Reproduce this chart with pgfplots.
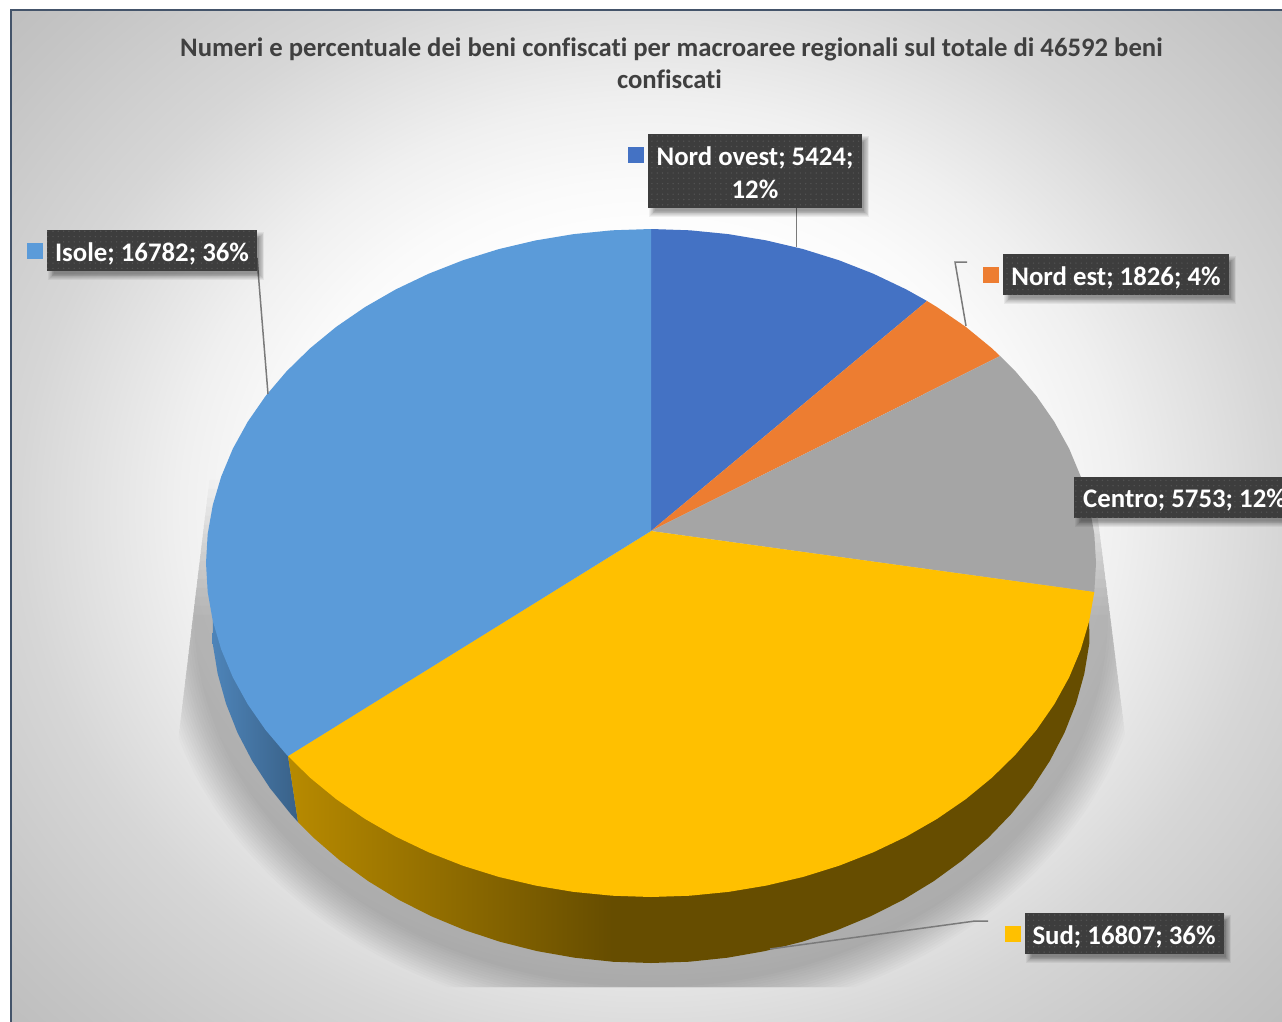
\documentclass[border=0pt]{standalone}
\usepackage{fontspec}
\setmainfont{Carlito}[Ligatures=NoCommon]
\usepackage{pgfplots}
\pgfplotsset{compat=1.18}
\usetikzlibrary{patterns}

\definecolor{cNordOvest}{HTML}{4472C4}
\definecolor{cNordEst}{HTML}{ED7D31}
\definecolor{cCentro}{HTML}{A5A5A5}
\definecolor{cSud}{HTML}{FFC000}
\definecolor{cIsole}{HTML}{5B9BD9}
\definecolor{cBox}{HTML}{3D3D3D}
\definecolor{cTitle}{HTML}{404040}
\definecolor{cFrame}{HTML}{44546A}

% Soft grey background, lightest around the middle of the chart area
\pgfdeclareradialshading{chartbg}{\pgfpoint{0bp}{0bp}}{%
  color(0bp)=(white);
  color(7.5bp)=(white);
  color(9.5bp)=(white!98!black);
  color(11.75bp)=(white!94!black);
  color(13.75bp)=(white!89!black);
  color(15.75bp)=(white!84!black);
  color(20bp)=(white!77!black);
  color(25bp)=(white!70!black);
  color(50bp)=(white!70!black)}

\pgfdeclarepatternformonly{boxdots}{\pgfqpoint{-1pt}{-1pt}}{\pgfqpoint{1pt}{1pt}}{\pgfqpoint{5.3pt}{5.3pt}}{%
  \pgfpathcircle{\pgfpointorigin}{0.8pt}\pgfusepath{fill}}

% Dark data label with a soft drop shadow: x1,y1,x2,y2
\newcommand{\labelbox}[4]{%
  \foreach \k in {0,1,2,3,4,5,6,7}{%
    \fill[black,opacity=0.055] (#1+7-\k*0.8,#2+8-\k*0.8) rectangle (#3+1.5+\k*0.8,#4+3+\k*0.8);}
  \fill[cBox] (#1,#2) rectangle (#3,#4);
  \fill[pattern=boxdots,pattern color=white!32!black] (#1,#2) rectangle (#3,#4);}

\begin{document}
\begin{tikzpicture}
\path[use as bounding box] (0,0) rectangle (1282pt,1021pt);
\clip (0,0) rectangle (1282pt,1021pt);

\begin{scope}[x=1pt,y=-1pt,yshift=1021pt]
  % chart area
  \fill[white] (0,0) rectangle (1282,1021);
  \begin{scope}
    \clip (10,10) rectangle (1282,1021);
    \shade[shading=chartbg] (650,510) ellipse [x radius=1000, y radius=870];
  \end{scope}
  \draw[cFrame,line width=2pt] (10.5,1030) -- (10.5,10.5) -- (1290,10.5);
  % shadow under the pie: a soft lower rim, fading out towards the top
  \foreach \k in {0,...,15}{%
    \pgfmathsetmacro{\ra}{496-\k*2.6}
    \pgfmathsetmacro{\rb}{410-\k*2.4}
    \pgfmathsetmacro{\yt}{480+\k*9}
    \pgfmathsetmacro{\xl}{177+(750-\yt)*0.12}
    \pgfmathsetmacro{\xr}{1127-(750-\yt)*0.126}
    \begin{scope}
      \clip (\xl,\yt) -- (177,750) -- (177,987) -- (1128,987) -- (1127,750) -- (\xr,\yt) -- cycle;
      \fill[black,opacity=0.0145] (651,613) ellipse [x radius=\ra, y radius=\rb];
    \end{scope}}
\end{scope}

\begin{axis}[
  at={(0,0)},anchor=south west,
  scale only axis,width=1282pt,height=1021pt,
  xmin=0,xmax=1282,ymin=0,ymax=1021,y dir=reverse,
  hide axis,clip=false]

% side wall, Isole
\addplot[draw=none,left color=cIsole!85!black,right color=cIsole!62!black,no markers] coordinates {
  (288,756)(298,822)(290.6,813.8)(269.9,788)(252.2,760.9)(237.5,732.7)(226,703.6)
  (217.7,673.8)(212.7,643.5)(212.8,621)(300,650)};
% side wall, Sud
\addplot[draw=none,left color=cSud!72!black,right color=cSud!40!black,no markers] coordinates {
  (288,756)(298,822)(313.9,838)(339.9,860.5)(368.2,881.1)(398.6,899.7)(431,916.1)(465,930.2)
  (500.5,941.9)(537.1,951.1)(574.6,957.7)(612.7,961.7)(612.7,880)};
\addplot[draw=none,fill=cSud!40!black,no markers] coordinates {
  (612.2,880)(612.2,961.7)(651,963)(689.3,961.7)(727.4,957.7)(764.9,951.1)(801.5,941.9)
  (837,930.2)(871,916.1)(903.4,899.7)(933.8,881.1)(962.1,860.5)(988.1,838)(1011.4,813.8)
  (1032.1,788)(1049.8,760.9)(1064.5,732.7)(1076,703.6)(1084.3,673.8)(1089.3,643.5)
  (1089.2,621)(1000,650)};

% top face: Nord ovest 5424
\addplot[draw=none,fill=cNordOvest,no markers] coordinates {
  (651,531)(651,229)(689.8,230.3)(728.3,234.1)(766.2,240.4)(803.2,249.1)(839.1,260.3)
  (873.5,273.8)(906.2,289.4)(927,301)};
% top face: Nord est 1826
\addplot[draw=none,fill=cNordEst,no markers] coordinates {
  (651,531)(927,301)(937,307.1)(965.7,326.8)(991.9,348.3)(1000,356)};
% top face: Centro 5753
\addplot[draw=none,fill=cCentro,no markers] coordinates {
  (651,531)(1000,356)(1015.5,371.4)(1036.4,396)(1054.3,421.8)(1069.2,448.8)(1080.8,476.6)
  (1089.2,505)(1094.3,533.9)(1096,563)(1094.3,592)};
% top face: Sud 16807
\addplot[draw=none,fill=cSud,no markers] coordinates {
  (651,531)(1094.3,592)(1089.2,621)(1080.8,649.4)(1069.2,677.2)(1054.3,704.2)(1036.4,730)
  (1015.5,754.6)(991.9,777.7)(965.7,799.2)(937,818.9)(906.2,836.6)(873.5,852.2)(839.1,865.7)
  (803.2,876.9)(766.2,885.6)(728.3,891.9)(689.8,895.7)(651,897)(612.2,895.7)(573.7,891.9)
  (535.8,885.6)(498.8,876.9)(462.9,865.7)(428.5,852.2)(395.8,836.6)(365,818.9)(336.3,799.2)
  (310.1,777.7)(288,756)};
% top face: Isole 16782
\addplot[draw=none,fill=cIsole,no markers] coordinates {
  (651,531)(288,756)(286.5,754.6)(265.6,730)(247.7,704.2)(232.8,677.2)(221.2,649.4)(212.8,621)
  (207.7,592.1)(206,563)(207.7,533.9)(212.8,505)(221.2,476.6)(232.8,448.8)(247.7,421.8)
  (265.6,396)(286.5,371.4)(310.1,348.3)(336.3,326.8)(365,307.1)(395.8,289.4)(428.5,273.8)
  (462.9,260.3)(498.8,249.1)(535.8,240.4)(573.7,234.1)(612.2,230.3)(651,229)};

% leader lines
\addplot[black!52,line width=1.5pt,no markers] coordinates {(796.5,208)(796.5,247)};
\addplot[black!52,line width=1.5pt,no markers] coordinates {(967,262)(955,262)(966,326)};
\addplot[black!52,line width=1.5pt,no markers] coordinates {(257,258)(268,394)};
\addplot[black!52,line width=1.5pt,no markers] coordinates {(988,921)(975,921)(770,949)};

% legend keys beside the data labels
\addplot[only marks,mark=square*,mark size=7.5pt,color=cNordOvest] coordinates {(635.5,154.5)};
\addplot[only marks,mark=square*,mark size=7.5pt,color=cNordEst] coordinates {(990.5,274.5)};
\addplot[only marks,mark=square*,mark size=7.5pt,color=cSud] coordinates {(1012.5,933.5)};
\addplot[only marks,mark=square*,mark size=7.5pt,color=cIsole] coordinates {(34.5,250.5)};
\end{axis}

\begin{scope}[x=1pt,y=-1pt,yshift=1021pt]
  \node[text=cTitle,anchor=base,font=\fontsize{26.7pt}{30pt}\selectfont\bfseries] at (671.5,56.5)
    {Numeri e percentuale dei beni confiscati per macroaree regionali sul totale di 46592 beni};
  \node[text=cTitle,anchor=base,font=\fontsize{26.7pt}{30pt}\selectfont\bfseries] at (669.5,88.5)
    {confiscati};

  \labelbox{648}{134}{862}{208}
  \labelbox{1003}{254}{1229}{295}
  \labelbox{1074}{477}{1300}{518}
  \labelbox{1025}{913}{1224}{954}
  \labelbox{47}{230}{257}{271}

  \tikzset{lab/.style={text=white,anchor=base,font=\fontsize{26.8pt}{30pt}\selectfont\bfseries,inner sep=0pt}}
  \node[lab] at (755,165.5) {Nord ovest; 5424;};
  \node[lab] at (755,198.5) {12\%};
  \node[lab] at (1116,285.5) {Nord est; 1826; 4\%};
  \node[lab,anchor=base west] at (1083,508) {Centro; 5753; 12\%};
  \node[lab] at (1124,944.5) {Sud; 16807; 36\%};
  \node[lab] at (152,261.5) {Isole; 16782; 36\%};
\end{scope}
\end{tikzpicture}
\end{document}
